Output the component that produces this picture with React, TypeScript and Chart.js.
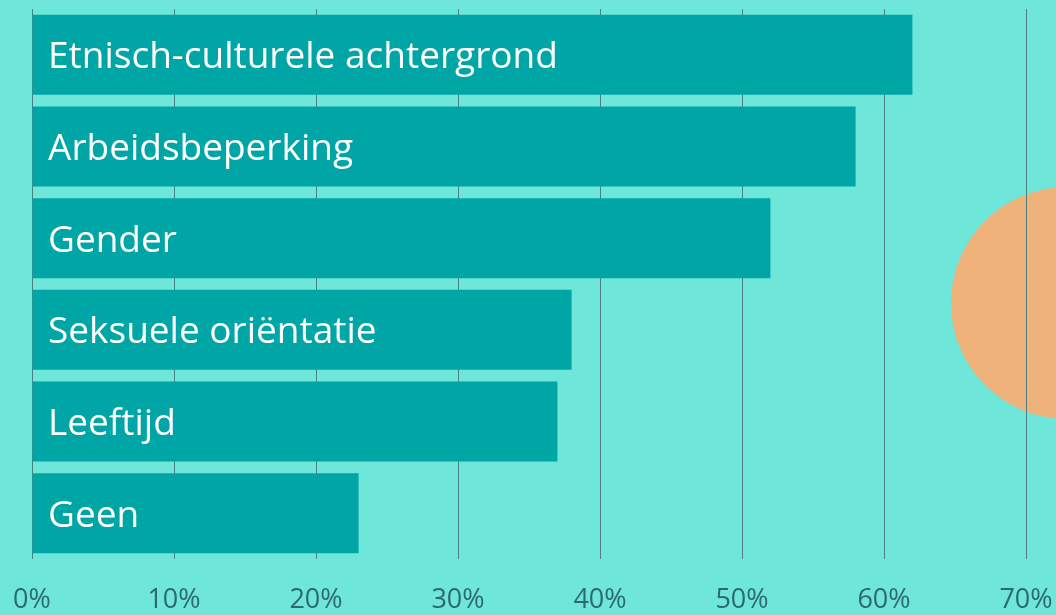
import React, { useEffect, useRef } from "react";
import { Chart, registerables } from "chart.js";

Chart.register(...registerables);

const categories = [
  "Etnisch-culturele achtergrond",
  "Arbeidsbeperking",
  "Gender",
  "Seksuele oriëntatie",
  "Leeftijd",
  "Geen",
];
const values = [62, 58, 52, 38, 37, 23];
const xTicks = [0, 10, 20, 30, 40, 50, 60, 70];

const BG = "#6EE6D9";
const BAR = "#00A5A5";
const GRID = "#4F7F84";
const TICK = "#2C6A6C";
const CIRCLE = "#EFB27A";

const backgroundPlugin = {
  id: "bgDecor",
  beforeDraw(chart: any) {
    const { ctx, width, height } = chart;
    ctx.save();
    ctx.fillStyle = BG;
    ctx.fillRect(0, 0, width, height);
    ctx.fillStyle = CIRCLE;
    ctx.beginPath();
    ctx.arc(1067, 303, 116, 0, Math.PI * 2);
    ctx.fill();
    ctx.restore();
  },
};

const insideLabelsPlugin = {
  id: "insideLabels",
  afterDatasetsDraw(chart: any) {
    const { ctx } = chart;
    const xScale = chart.scales.x;
    const meta = chart.getDatasetMeta(0);
    ctx.save();
    ctx.fillStyle = "#FFFFFF";
    ctx.font = "37px 'Open Sans'";
    ctx.textBaseline = "middle";
    ctx.textAlign = "left";
    meta.data.forEach((bar: any, i: number) => {
      const x0 = xScale.getPixelForValue(0);
      ctx.fillText(categories[i], x0 + 16, bar.y + 3);
    });
    ctx.restore();
  },
};

export default function App() {
  const ref = useRef<HTMLCanvasElement>(null);
  useEffect(() => {
    document.body.style.margin = "0";
    document.body.style.background = BG;
    const chart = new Chart(ref.current!, {
      type: "bar",
      data: {
        labels: categories,
        datasets: [
          {
            data: values,
            backgroundColor: BAR,
            borderWidth: 0,
            barPercentage: 0.872,
            categoryPercentage: 1,
          },
        ],
      },
      options: {
        indexAxis: "y",
        responsive: false,
        animation: false,
        layout: { padding: { left: 32, right: 30, top: 9, bottom: 0 } },
        plugins: { legend: { display: false }, tooltip: { enabled: false } },
        scales: {
          y: { display: false, offset: true },
          x: {
            min: 0,
            max: 70,
            afterBuildTicks(scale: any) {
              scale.ticks = xTicks.map((v) => ({ value: v }));
            },
            afterFit(scale: any) {
              scale.height = 56;
              scale.paddingLeft = 0;
              scale.paddingRight = 0;
            },
            grid: { color: GRID, lineWidth: 1, tickLength: 0, drawTicks: false },
            border: { display: false },
            ticks: {
              padding: 25,
              color: TICK,
              font: { family: "'Open Sans'", size: 27 },
              callback: (v: any) => v + "%",
              maxRotation: 0,
            },
          },
        },
      },
      plugins: [backgroundPlugin, insideLabelsPlugin],
    });
    return () => chart.destroy();
  }, []);
  return <canvas ref={ref} width={1056} height={615} style={{ display: "block" }} />;
}
